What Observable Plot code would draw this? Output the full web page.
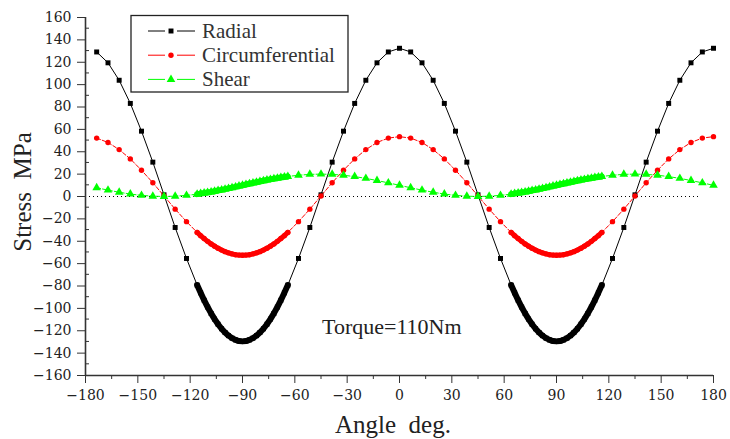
<!DOCTYPE html>
<html><head><meta charset="utf-8">
<script src="https://cdn.jsdelivr.net/npm/d3@7"></script>
<script src="https://cdn.jsdelivr.net/npm/@observablehq/plot@0.6"></script>
<style>
html,body{margin:0;padding:0;background:#fff;}
#chart svg g[aria-label="x-axis tick label"], #chart svg g[aria-label="x-axis tick label"] text,
#chart svg g[aria-label="y-axis tick label"], #chart svg g[aria-label="y-axis tick label"] text {
  font-family: 'DejaVu Serif', serif !important; font-size: 14px !important; font-variant: normal !important;
}
</style>
</head><body><div id="chart"></div>
<script>
const angles = [-173.6,-167.1,-160.7,-154.3,-147.9,-141.4,-135,-128.6,-122.1,
 -116,-114,-112,-110,-108,-106,-104,-102,-100,-98,-96,-94,-92,-90,-88,-86,-84,-82,-80,-78,-76,-74,-72,-70,-68,-66,-64,
 -57.9,-51.4,-45,-38.6,-32.1,-25.7,-19.3,-12.9,-6.4,0,6.4,12.9,19.3,25.7,32.1,38.6,45,51.4,57.9,
 64,66,68,70,72,74,76,78,80,82,84,86,88,90,92,94,96,98,100,102,104,106,108,110,112,114,116,
 122.1,128.6,135,141.4,147.9,154.3,160.7,167.1,173.6,180];
const radial = [129.2,119.5,103.9,83.2,58.4,30.7,1.5,-27.7,-55.4,
 -79.2,-86.1,-92.7,-98.8,-104.5,-109.6,-114.2,-118.2,-121.6,-124.4,-126.6,-128.2,-129.2,-129.5,-129.2,-128.2,-126.6,-124.4,-121.6,-118.2,-114.2,-109.6,-104.5,-98.8,-92.7,-86.1,-79.2,
 -55.4,-27.7,1.5,30.7,58.4,83.2,103.9,119.5,129.2,132.5,129.2,119.5,103.9,83.2,58.4,30.7,1.5,-27.7,-55.4,
 -79.2,-86.1,-92.7,-98.8,-104.5,-109.6,-114.2,-118.2,-121.6,-124.4,-126.6,-128.2,-129.2,-129.5,-129.2,-128.2,-126.6,-124.4,-121.6,-118.2,-114.2,-109.6,-104.5,-98.8,-92.7,-86.1,-79.2,
 -55.4,-27.7,1.5,30.7,58.4,83.2,103.9,119.5,129.2,132.5];
const circumferential = [52.2,48.3,41.9,33.6,23.5,12.3,0.5,-11.3,-22.5,
 -32.1,-35.0,-37.6,-40.1,-42.4,-44.4,-46.3,-47.9,-49.3,-50.4,-51.3,-52.0,-52.4,-52.5,-52.4,-52.0,-51.3,-50.4,-49.3,-47.9,-46.3,-44.4,-42.4,-40.1,-37.6,-35.0,-32.1,
 -22.5,-11.3,0.5,12.3,23.5,33.6,41.9,48.3,52.2,53.5,52.2,48.3,41.9,33.6,23.5,12.3,0.5,-11.3,-22.5,
 -32.1,-35.0,-37.6,-40.1,-42.4,-44.4,-46.3,-47.9,-49.3,-50.4,-51.3,-52.0,-52.4,-52.5,-52.4,-52.0,-51.3,-50.4,-49.3,-47.9,-46.3,-44.4,-42.4,-40.1,-37.6,-35.0,-32.1,
 -22.5,-11.3,0.5,12.3,23.5,33.6,41.9,48.3,52.2,53.5];
const shear = [7.8,5.7,3.8,2.2,1.0,0.3,0,0.3,1.0,
 2.1,2.6,3.1,3.6,4.1,4.7,5.3,5.9,6.6,7.2,7.9,8.6,9.3,10,10.7,11.4,12.1,12.8,13.4,14.1,14.7,15.3,15.9,16.4,17.0,17.4,17.9,
 19.0,19.8,20,19.8,19.0,17.8,16.2,14.3,12.2,10,7.8,5.7,3.8,2.2,1.0,0.3,0,0.3,1.0,
 2.1,2.6,3.1,3.6,4.1,4.7,5.3,5.9,6.6,7.2,7.9,8.6,9.3,10,10.7,11.4,12.1,12.8,13.4,14.1,14.7,15.3,15.9,16.4,17.0,17.4,17.9,
 19.0,19.8,20,19.8,19.0,17.8,16.2,14.3,12.2,10];
const xTicks = [-180,-150,-120,-90,-60,-30,0,30,60,90,120,150,180];
const xMinor = [-165,-135,-105,-75,-45,-15,15,45,75,105,135,165];
const yTicks = [-160,-140,-120,-100,-80,-60,-40,-20,0,20,40,60,80,100,120,140,160];
const yMinor = [-150,-130,-110,-90,-70,-50,-30,-10,10,30,50,70,90,110,130,150];
const seriesNames = ["Radial","Circumferential","Shear"];
const seriesColors = ["#000000","#ff0000","#00ff00"];
const zeroLineEnd = 172;
const annotation = "Torque=110Nm";

const rows = angles.map((a,i)=>({a, r: radial[i], c: circumferential[i], s: shear[i], side: a < 0 ? "L" : "R"}));
const dense = rows.filter(d => Math.abs(d.a) > 63 && Math.abs(d.a) < 117);
const fmt = d => d < 0 ? "\u2212" + (-d) : String(d);
const SERIF = "'Liberation Serif', serif";
const TICKFONT = "'DejaVu Serif', serif";

const svg = Plot.plot({
  width: 730, height: 439,
  marginLeft: 85, marginRight: 17, marginTop: 17, marginBottom: 64,
  x: {domain: [-180, 180]},
  y: {domain: [-160, 160]},
  style: {fontFamily: TICKFONT, fontSize: "14px", color: "#222", background: "#fff"},
  marks: [
    Plot.ruleY([0], {x1: -180, x2: zeroLineEnd, stroke: "#000", strokeWidth: 1, strokeDasharray: "1,3"}),
    // Radial
    Plot.line(rows, {x: "a", y: "r", stroke: seriesColors[0], strokeWidth: 1}),
    Plot.line(dense, {x: "a", y: "r", z: "side", stroke: seriesColors[0], strokeWidth: 6}),
    Plot.dot(rows, {x: "a", y: "r", symbol: "square", r: 2.8, fill: seriesColors[0]}),
    // Circumferential
    Plot.line(rows, {x: "a", y: "c", stroke: seriesColors[1], strokeWidth: 1, strokeDasharray: "4,2"}),
    Plot.line(dense, {x: "a", y: "c", z: "side", stroke: seriesColors[1], strokeWidth: 5}),
    Plot.dot(rows, {x: "a", y: "c", symbol: "circle", r: 2.7, fill: seriesColors[1]}),
    // Shear
    Plot.line(rows, {x: "a", y: "s", stroke: seriesColors[2], strokeWidth: 1, strokeDasharray: "4,2"}),
    Plot.line(dense, {x: "a", y: "s", z: "side", stroke: seriesColors[2], strokeWidth: 6}),
    Plot.dot(rows, {x: "a", y: "s", symbol: "triangle", r: 3.2, fill: seriesColors[2]}),
    // axes
    Plot.axisX({ticks: xTicks, tickSize: 8, tickPadding: 7, tickFormat: fmt, label: null, stroke: "#333", fontFamily: TICKFONT, fontSize: 14, fill: "#222"}),
    Plot.axisX({ticks: xMinor, tickSize: 4, text: null, label: null, stroke: "#333"}),
    Plot.axisY({ticks: yTicks, tickSize: 8, tickPadding: 6, tickFormat: fmt, label: null, stroke: "#333", fontFamily: TICKFONT, fontSize: 14, fill: "#222"}),
    Plot.ruleX([-180], {stroke: "#333", strokeWidth: 1.6}),
    Plot.ruleY([-160], {stroke: "#333", strokeWidth: 1.6})
  ]
});
document.getElementById("chart").appendChild(svg);

const s = d3.select(svg);
const ys = svg.scale("y"), xs = svg.scale("x");
const x0 = xs.apply(-180);
s.append("g").selectAll("line").data(yMinor).join("line")
  .attr("x1", x0).attr("x2", x0 + 4).attr("y1", d => ys.apply(d)).attr("y2", d => ys.apply(d))
  .attr("stroke", "#333").attr("stroke-width", 1);

s.append("text").attr("x", 393).attr("y", 433).attr("text-anchor", "middle")
  .style("font-family", SERIF).style("font-size", "25px").style("white-space", "pre").attr("fill", "#222")
  .text("Angle  deg.");
s.append("text").attr("transform", "translate(31,192) rotate(-90)").attr("text-anchor", "middle")
  .style("font-family", SERIF).style("font-size", "25px").style("white-space", "pre").attr("fill", "#222")
  .text("Stress  MPa");
s.append("text").attr("x", 322).attr("y", 334).attr("text-anchor", "start")
  .style("font-family", SERIF).style("font-size", "22px").attr("fill", "#222").text(annotation);

const lg = s.append("g");
lg.append("rect").attr("x", 131).attr("y", 15.5).attr("width", 217).attr("height", 76.5)
  .attr("fill", "#fff").attr("stroke", "#222").attr("stroke-width", 1.3);
const syms = [d3.symbolSquare, d3.symbolCircle, d3.symbolTriangle];
const sizes = [Math.PI*2.8*2.8, Math.PI*2.7*2.7, Math.PI*3.2*3.2];
seriesNames.forEach((name, i) => {
  const y = 31 + i * 24.2;
  lg.append("line").attr("x1", 148).attr("x2", 165).attr("y1", y).attr("y2", y).attr("stroke", seriesColors[i]).attr("stroke-width", 1);
  lg.append("line").attr("x1", 177).attr("x2", 195).attr("y1", y).attr("y2", y).attr("stroke", seriesColors[i]).attr("stroke-width", 1);
  lg.append("path").attr("d", d3.symbol(syms[i], sizes[i])()).attr("transform", `translate(171,${y})`).attr("fill", seriesColors[i]);
  lg.append("text").attr("x", 202).attr("y", y + 7).attr("text-anchor", "start")
    .style("font-family", SERIF).style("font-size", "21px").attr("fill", "#333").text(name);
});
</script>
</body></html>
